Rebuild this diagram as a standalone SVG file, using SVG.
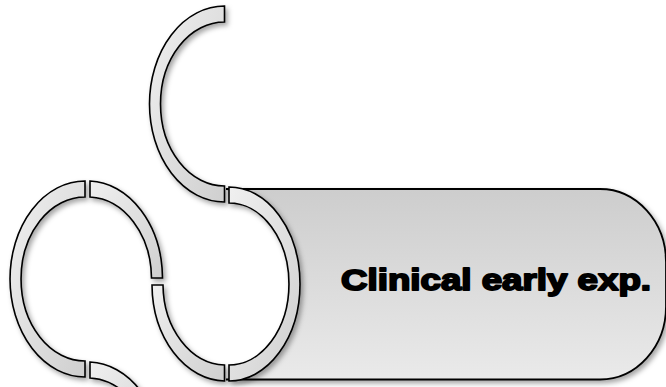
<svg xmlns="http://www.w3.org/2000/svg" width="666" height="387" viewBox="0 0 666 387">
  <style>
    .ring { fill: url(#ringGrad); stroke: #000; stroke-width: 1.6; stroke-linejoin: miter; filter: url(#shadow); }
    .pill { fill: url(#pillGrad); stroke: #000; stroke-width: 1.8; filter: url(#shadow); }
    .label { font-family: "Liberation Sans", Arial, sans-serif; font-weight: bold; font-size: 30px; fill: #000; stroke: #000; stroke-width: 1.9px; stroke-linejoin: round; }
  </style>
  <defs>
    <linearGradient id="ringGrad" x1="0" y1="0" x2="1" y2="1">
      <stop offset="0" stop-color="#f0f0f0"/>
      <stop offset="1" stop-color="#cfcfcf"/>
    </linearGradient>
    <linearGradient id="pillGrad" x1="0" y1="0" x2="0" y2="1">
      <stop offset="0" stop-color="#cdcdcd"/>
      <stop offset="1" stop-color="#eaeaea"/>
    </linearGradient>
    <filter id="shadow" x="-20%" y="-20%" width="140%" height="140%">
      <feDropShadow dx="2.5" dy="3" stdDeviation="2.5" flood-color="#000" flood-opacity="0.35"/>
    </filter>
  </defs>

  <g id="node-clinical">
    <path class="pill" d="M226,189 L600,189 A66,73 0 0 1 666,262 L666,306.5 A66,73 0 0 1 600,379.5 L226,379.5 A70,95.25 0 0 0 226,189 Z"/>
    <text class="label" x="341" y="290.3" textLength="310" lengthAdjust="spacingAndGlyphs">Clinical early exp.</text>
  </g>

  <g id="connectors">
    <!-- ring 1 (top), left half -->
    <path class="ring" d="M224.5,6 A75,98 0 0 0 224.5,202 L224.5,186 A64,82 0 0 1 224.5,22 Z"/>
    <!-- ring 2 (left), left half -->
    <path class="ring" d="M85,181 A75,98 0 0 0 85,377 L85,361 A64,82 0 0 1 85,197 Z"/>
    <!-- ring 2, upper right quarter -->
    <path class="ring" d="M90,181 A75,98 0 0 1 162.5,278 L151.5,278 A64,82 0 0 0 90,197 Z"/>
    <!-- ring 3, lower left quarter -->
    <path class="ring" d="M152,285 A74,97 0 0 0 224.5,381 L224.5,365 A63,81 0 0 1 163,285 Z"/>
    <!-- ring 3, right half (around node) -->
    <path class="ring" d="M229,187 A71,97 0 0 1 229,381 L229,365 A60,81 0 0 0 229,203 Z"/>
    <!-- ring 4, upper right quarter (cut by edge) -->
    <path class="ring" d="M90,362 A75,98 0 0 1 162.5,459 L151.5,459 A64,82 0 0 0 90,378 Z"/>
  </g>
</svg>
